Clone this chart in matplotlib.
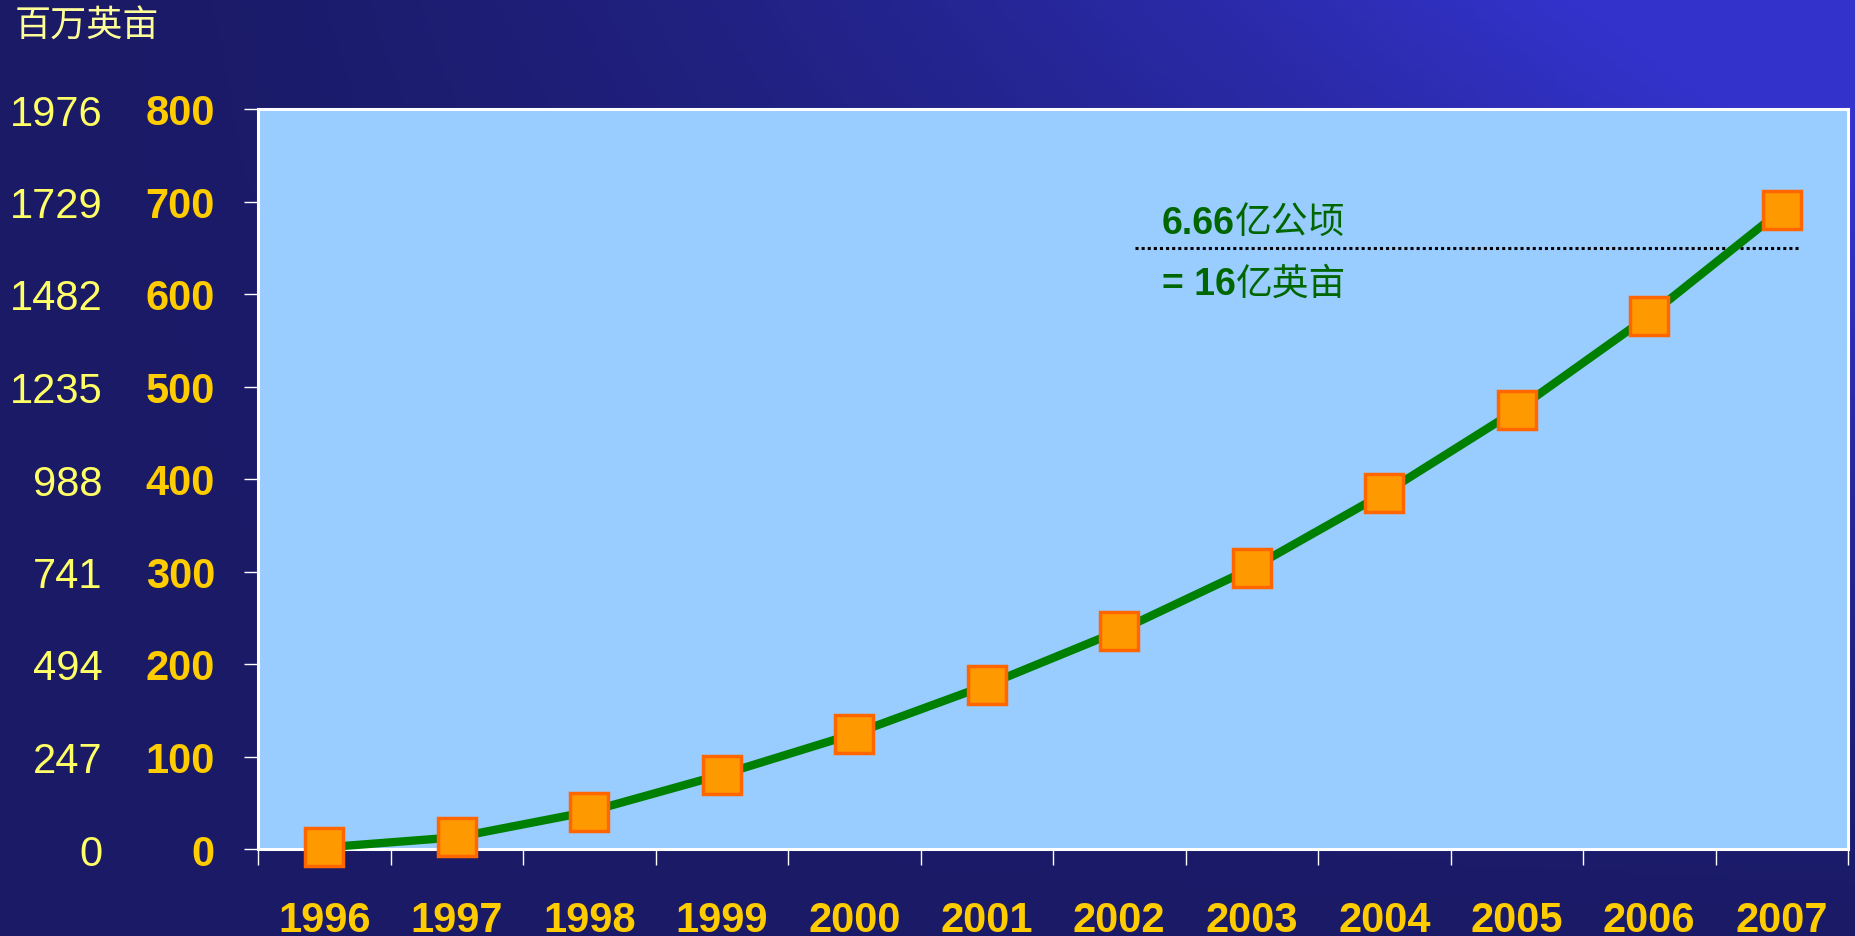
import numpy as np
import matplotlib.pyplot as plt

# cumulative area, million hectares
years = ["1996", "1997", "1998", "1999", "2000", "2001",
         "2002", "2003", "2004", "2005", "2006", "2007"]
area_mha = [1.7, 12.7, 40.5, 80.4, 124.6, 177.2,
            235.9, 303.6, 384.6, 474.6, 576.6, 690.9]
ha_ticks = [0, 100, 200, 300, 400, 500, 600, 700, 800]
acre_ticks = [0, 247, 494, 741, 988, 1235, 1482, 1729, 1976]
ref_level = 650
note_top = "6.66"
note_top_cn = "亿公顷"
note_bot = "= 16"
note_bot_cn = "亿英亩"
unit_label = "百万英亩"

W, H = 1855, 937
fig = plt.figure(figsize=(W / 100, H / 100), dpi=100)

# background gradient: dark navy, brighter towards the top right
bg = fig.add_axes([0, 0, 1, 1], zorder=-10)
xx, yy = np.meshgrid(np.linspace(0, 1, 400), np.linspace(0, 1, 200))
t = np.clip((xx ** 1.6) * ((1 - yy) ** 1.2) * 1.3, 0, 1)
dark = np.array([0x1a, 0x1a, 0x66]) / 255
bright = np.array([0x33, 0x33, 0xcc]) / 255
img = dark[None, None, :] * (1 - t[..., None]) + bright[None, None, :] * t[..., None]
bg.imshow(img, aspect="auto", extent=[0, 1, 0, 1], origin="upper")
bg.axis("off")

ax = fig.add_axes([258 / W, 1 - 850 / H, (1848 - 258) / W, (850 - 110) / H])
ax.set_facecolor("#99CCFF")
x = np.arange(len(years))
ax.plot(x, area_mha, color="#008000", lw=6, marker="s", ms=27.5,
        mfc="#FF9900", mec="#FF6600", mew=2.5, clip_on=False, zorder=5)

ax.set_xlim(-0.5, len(years) - 0.5)
ax.set_ylim(0, 800)
for s in ax.spines.values():
    s.set_color("white")
    s.set_linewidth(2.2)

ax.set_xticks(x)
ax.set_xticklabels(years)
ax.set_xticks(np.arange(-0.5, len(years)), minor=True)
ax.tick_params(axis="x", which="major", length=0, pad=37, labelsize=30,
               labelcolor="#FFCC00")
ax.tick_params(axis="x", which="minor", length=11.5, width=1, color="white")
for lab in ax.get_xticklabels():
    lab.set_fontweight("bold")
    lab.set_family("Liberation Sans")

ax.set_yticks(ha_ticks)
ax.tick_params(axis="y", length=10, width=1, color="white", pad=21,
               labelsize=30, labelcolor="#FFCC00")
for lab in ax.get_yticklabels():
    lab.set_fontweight("bold")
    lab.set_family("Liberation Sans")

# acre scale on the far left
sec = ax.secondary_yaxis("left", functions=(lambda y: y * 2.47, lambda y: y / 2.47))
sec.set_yticks(acre_ticks)
sec.spines["left"].set_visible(False)
sec.tick_params(length=0, pad=112, labelsize=30, labelcolor="#FFFF66")
for lab in sec.get_yticklabels():
    lab.set_family("Liberation Sans")

fig.text(15 / W, 1 - 27 / H, unit_label, color="#FFFF99", fontsize=26,
         family=["Noto Sans CJK SC"], fontweight="light", va="center", ha="left")

# reference line and note
ax.plot([6.12, 11.14], [ref_level, ref_level], color="black", lw=2.2,
        linestyle=(0, (1, 1)), zorder=4)
green = "#006600"
t1 = ax.text(6.32, 657, note_top, color=green, fontsize=27, fontweight="bold",
             family="Liberation Sans", va="bottom", ha="left")
ax.annotate(note_top_cn, xy=(1, 0), xycoords=t1, color=green, fontsize=26.5,
            family=["Noto Sans CJK SC"], va="bottom", ha="left")
t2 = ax.text(6.32, 591, note_bot, color=green, fontsize=27, fontweight="bold",
             family="Liberation Sans", va="bottom", ha="left")
ax.annotate(note_bot_cn, xy=(1, 0), xycoords=t2, color=green, fontsize=26.5,
            family=["Noto Sans CJK SC"], va="bottom", ha="left")

fig.savefig("out.png", dpi=100)
